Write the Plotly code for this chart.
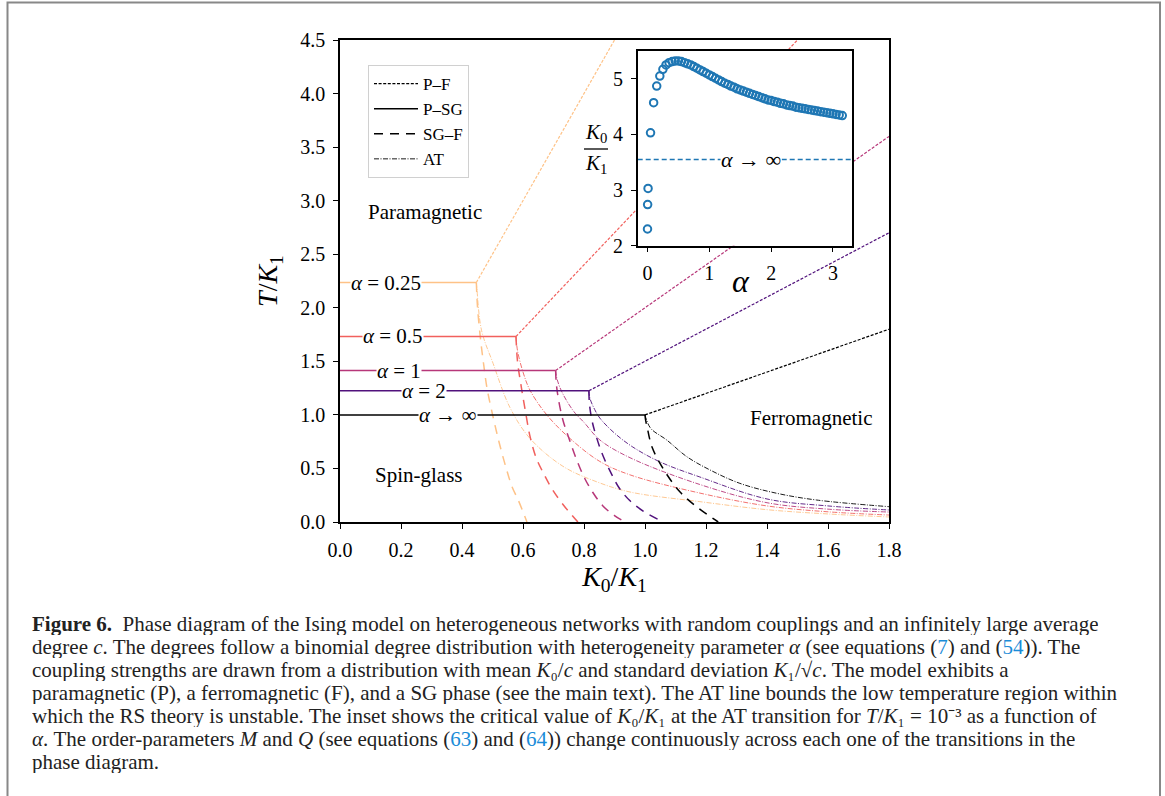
import plotly.graph_objects as go

# ---------------- data ----------------
alpha_labels = ["0.25", "0.5", "1", "2", "∞"]
colors = ["#fec287", "#f1605d", "#b73779", "#51127c", "#000000"]

# P-SG transition (solid horizontal lines) : T_SG/K1 and junction K0/K1
T_sg = [2.236, 1.732, 1.414, 1.225, 1.000]
K0_junction = [0.447, 0.577, 0.707, 0.816, 1.000]

# P-F transition (short dashed) end points at the frame
pf_K0_end = [0.90, 1.50, 1.80, 1.80, 1.80]
pf_T_end = [4.50, 4.50, 3.60, 2.70, 1.80]

# SG-F transition (long dashed) points
sgf_K0 = [
    [0.447, 0.451, 0.461, 0.472, 0.482, 0.502, 0.522, 0.545, 0.564, 0.585, 0.613],
    [0.577, 0.582, 0.595, 0.610, 0.623, 0.643, 0.668, 0.697, 0.735, 0.780],
    [0.707, 0.709, 0.716, 0.731, 0.752, 0.772, 0.800, 0.828, 0.862, 0.900, 0.934],
    [0.816, 0.818, 0.826, 0.840, 0.862, 0.890, 0.915, 0.950, 0.995, 1.060],
    [1.000, 1.002, 1.007, 1.023, 1.062, 1.115, 1.170, 1.240],
]
sgf_T = [
    [2.236, 2.000, 1.700, 1.450, 1.250, 0.980, 0.740, 0.500, 0.330, 0.200, 0.000],
    [1.732, 1.500, 1.250, 1.000, 0.800, 0.600, 0.450, 0.300, 0.150, 0.000],
    [1.414, 1.300, 1.150, 0.950, 0.770, 0.610, 0.420, 0.280, 0.150, 0.060, 0.000],
    [1.225, 1.100, 0.950, 0.800, 0.620, 0.450, 0.320, 0.200, 0.100, 0.000],
    [1.000, 0.950, 0.887, 0.700, 0.486, 0.280, 0.140, 0.000],
]

# AT lines (dash-dot) points
at_K0 = [
    [0.447, 0.449, 0.464, 0.502, 0.557, 0.623, 0.731, 0.842, 0.951, 1.180, 1.400, 1.600, 1.800],
    [0.577, 0.582, 0.600, 0.623, 0.678, 0.754, 0.852, 0.951, 1.180, 1.400, 1.600, 1.800],
    [0.707, 0.712, 0.730, 0.767, 0.800, 0.852, 0.951, 1.180, 1.400, 1.600, 1.800],
    [0.816, 0.820, 0.835, 0.852, 0.900, 0.960, 1.050, 1.180, 1.400, 1.600, 1.800],
    [1.000, 1.005, 1.020, 1.071, 1.137, 1.213, 1.311, 1.432, 1.563, 1.800],
]
at_T = [
    [2.236, 2.170, 1.790, 1.480, 1.070, 0.780, 0.520, 0.375, 0.280, 0.190, 0.115, 0.075, 0.047],
    [1.732, 1.600, 1.400, 1.230, 1.000, 0.780, 0.565, 0.440, 0.270, 0.150, 0.095, 0.065],
    [1.414, 1.330, 1.200, 1.030, 0.930, 0.766, 0.600, 0.350, 0.180, 0.120, 0.093],
    [1.225, 1.150, 1.050, 0.970, 0.830, 0.700, 0.560, 0.420, 0.215, 0.150, 0.112],
    [1.000, 0.952, 0.870, 0.766, 0.610, 0.486, 0.361, 0.268, 0.205, 0.143],
]

# inset: critical K0/K1 at the AT transition for T/K1 = 1e-3
inset_alpha = [0.001, 0.003, 0.01] + [round(0.05 * i, 2) for i in range(1, 64)]
inset_K0 = [2.30, 2.74, 3.03,
            4.03, 4.57, 4.87, 5.05, 5.17, 5.25, 5.29, 5.31, 5.32, 5.32,
            5.31, 5.29, 5.27, 5.25, 5.22, 5.19, 5.16, 5.13, 5.10, 5.07,
            5.04, 5.01, 4.98, 4.95, 4.92, 4.90, 4.87, 4.85, 4.82, 4.80,
            4.78, 4.76, 4.74, 4.72, 4.70, 4.68, 4.66, 4.64, 4.62, 4.61,
            4.59, 4.58, 4.56, 4.55, 4.53, 4.52, 4.51, 4.49, 4.48, 4.47,
            4.46, 4.45, 4.44, 4.43, 4.42, 4.41, 4.40, 4.39, 4.38, 4.37,
            4.36, 4.35, 4.34]
inset_alpha = inset_alpha[:len(inset_K0)]
K0_inf_AT = 3.55

label_K0 = [0.151, 0.175, 0.194, 0.275, 0.354]

FONT = "Liberation Serif"

fig = go.Figure()

for i in range(5):
    c = colors[i]
    # P-SG
    fig.add_trace(go.Scatter(x=[0, K0_junction[i]], y=[T_sg[i], T_sg[i]], mode="lines",
                             line=dict(color=c, width=1.5), showlegend=False, hoverinfo="skip"))
    # P-F
    fig.add_trace(go.Scatter(x=[K0_junction[i], pf_K0_end[i]], y=[T_sg[i], pf_T_end[i]], mode="lines",
                             line=dict(color=c, width=1.2, dash="3px,1.6px"), showlegend=False, hoverinfo="skip"))
    # SG-F
    fig.add_trace(go.Scatter(x=sgf_K0[i], y=sgf_T[i], mode="lines", line_shape="spline",
                             line=dict(color=c, width=1.5, dash="9px,7px"), showlegend=False, hoverinfo="skip"))
    # AT
    fig.add_trace(go.Scatter(x=at_K0[i], y=at_T[i], mode="lines", line_shape="spline",
                             line=dict(color=c, width=0.9, dash="5px,1.5px,1px,1.5px"), showlegend=False, hoverinfo="skip"))
    # label on P-SG line
    fig.add_annotation(x=label_K0[i], y=T_sg[i], xref="x", yref="y",
                       text=("<i>α</i> = " + alpha_labels[i]) if i < 4 else "<i>α</i> → ∞",
                       showarrow=False, bgcolor="white", borderpad=0, height=18,
                       font=dict(family=FONT, size=21, color="black"))

# legend entries
leg = [("P–F", "3px,1.6px", 1.2), ("P–SG", "solid", 1.5), ("SG–F", "9px,7px", 1.5), ("AT", "5px,1.5px,1px,1.5px", 0.9)]
for name, d, w in leg:
    fig.add_trace(go.Scatter(x=[None], y=[None], mode="lines", name=name,
                             line=dict(color="black", width=w, dash=d)))

# inset
fig.add_trace(go.Scatter(x=inset_alpha, y=inset_K0, mode="markers", xaxis="x2", yaxis="y2",
                         marker=dict(symbol="circle-open", size=7.5, color="#1f77b4", line=dict(width=2, color="#1f77b4")),
                         showlegend=False, hoverinfo="skip"))
fig.add_trace(go.Scatter(x=[-0.1575, 3.3075], y=[K0_inf_AT, K0_inf_AT], mode="lines", xaxis="x2", yaxis="y2",
                         line=dict(color="#1f77b4", width=1.5, dash="5px,3px"), showlegend=False, hoverinfo="skip"))
fig.add_annotation(x=1.68, y=K0_inf_AT, xref="x2", yref="y2", text="<i>α</i> → ∞", showarrow=False,
                   bgcolor="white", borderpad=0, font=dict(family=FONT, size=22, color="black"))

# region labels
for txt, x, y in [("Paramagnetic", 0.28, 2.89), ("Spin-glass", 0.26, 0.44), ("Ferromagnetic", 1.545, 0.97)]:
    fig.add_annotation(x=x, y=y, xref="x", yref="y", text=txt, showarrow=False,
                       font=dict(family=FONT, size=21, color="black"))

# plot area: left 340, right 889, top 40, bottom 522
W, H = 1165, 796
L, R, T, B = 340, 889, 40, 522
pw, ph = R - L, B - T
def px(xp):
    return (xp - L) / pw
def py(yp):
    return (B - yp) / ph

# inset y label as fraction
fig.add_annotation(x=px(596), y=py(147), xref="paper", yref="paper", yanchor="bottom", text="<i>K</i><sub>0</sub>",
                   showarrow=False, borderpad=0, font=dict(family=FONT, size=21, color="black"))
fig.add_annotation(x=px(596), y=py(150), xref="paper", yref="paper", yanchor="top", text="<i>K</i><sub>1</sub>",
                   showarrow=False, borderpad=0, font=dict(family=FONT, size=21, color="black"))
fig.add_shape(type="line", xref="paper", yref="paper", x0=px(584), x1=px(608), y0=py(149), y1=py(149),
              line=dict(color="black", width=1.3))
# inset x label
fig.add_annotation(x=px(752), y=py(281), xref="paper", yref="paper", text="<i>α</i>",
                   showarrow=False, font=dict(family=FONT, size=32, color="black"))

# figure border
fig.add_shape(type="rect", xref="paper", yref="paper", x0=px(7.5), x1=px(1160), y0=py(830), y1=py(2.5),
              line=dict(color="#888888", width=2))

# caption
blue = "#1a8cd8"
def ref(n):
    return "<span style='color:%s'>%s</span>" % (blue, n)
caption = [
    "<b>Figure 6.</b>  Phase diagram of the Ising model on heterogeneous networks with random couplings and an infinitely large average",
    "degree <i>c</i>. The degrees follow a binomial degree distribution with heterogeneity parameter <i>α</i> (see equations (" + ref(7) + ") and (" + ref(54) + ")). The",
    "coupling strengths are drawn from a distribution with mean <i>K</i>₀/<i>c</i> and standard deviation <i>K</i>₁/√<i>c</i>. The model exhibits a",
    "paramagnetic (P), a ferromagnetic (F), and a SG phase (see the main text). The AT line bounds the low temperature region within",
    "which the RS theory is unstable. The inset shows the critical value of <i>K</i>₀/<i>K</i>₁ at the AT transition for <i>T</i>/<i>K</i>₁ = 10⁻³ as a function of",
    "<i>α</i>. The order-parameters <i>M</i> and <i>Q</i> (see equations (" + ref(63) + ") and (" + ref(64) + ")) change continuously across each one of the transitions in the",
    "phase diagram.",
]
for k, line in enumerate(caption):
    fig.add_annotation(x=px(31), y=py(623 + 23 * k), xref="paper", yref="paper", xanchor="left", yanchor="middle",
                       text=line, showarrow=False, height=23, borderpad=0,
                       font=dict(family=FONT, size=21, color="#222222"))

axis_common = dict(showline=True, linecolor="black", linewidth=1.5, mirror=True, ticks="outside",
                   ticklen=5, tickwidth=1.3, tickcolor="black", showgrid=False, zeroline=False,
                   ticklabelstandoff=4,
                   tickfont=dict(family=FONT, size=20, color="black"))

fig.update_layout(
    width=W, height=H,
    margin=dict(l=L, r=W - R, t=T, b=H - B),
    plot_bgcolor="white", paper_bgcolor="white",
    xaxis=dict(range=[0, 1.8], dtick=0.2, tick0=0, tickformat=".1f",
               title=dict(text="<i>K</i><sub>0</sub>/<i>K</i><sub>1</sub>", font=dict(family=FONT, size=28, color="black"), standoff=5),
               **axis_common),
    yaxis=dict(range=[0, 4.5], dtick=0.5, tick0=0, tickformat=".1f",
               title=dict(text="<i>T</i>/<i>K</i><sub>1</sub>", font=dict(family=FONT, size=28, color="black"), standoff=14),
               **axis_common),
    xaxis2=dict(domain=[px(637.7), px(852)], anchor="y2", range=[-0.1575, 3.3075], dtick=1, tick0=0,
                **axis_common),
    yaxis2=dict(domain=[py(245.7), py(51)], anchor="x2", range=[2, 5.5], dtick=1, tick0=2,
                **axis_common),
    legend=dict(x=px(368), y=py(65), xanchor="left", yanchor="top", bgcolor="white",
                bordercolor="#d0d0d0", borderwidth=1, font=dict(family=FONT, size=17, color="black"),
                tracegroupgap=0, itemwidth=44),
    showlegend=True,
)

fig.write_html("out.html")
